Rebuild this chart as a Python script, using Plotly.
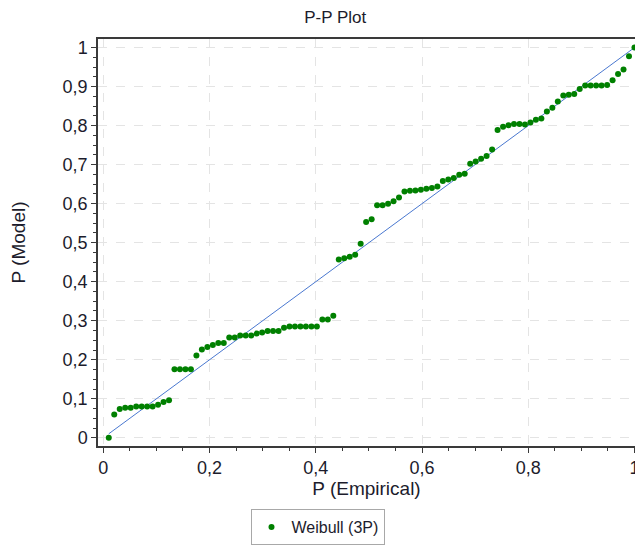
import plotly.graph_objects as go

# Empirical probabilities (rank / n, n = 97)
p_empirical = [
    0.0103, 0.0206, 0.0309, 0.0412, 0.0515, 0.0619, 0.0722, 0.0825, 0.0928, 0.1031,
    0.1134, 0.1237, 0.1340, 0.1443, 0.1546, 0.1649, 0.1753, 0.1856, 0.1959, 0.2062,
    0.2165, 0.2268, 0.2371, 0.2474, 0.2577, 0.2680, 0.2784, 0.2887, 0.2990, 0.3093,
    0.3196, 0.3299, 0.3402, 0.3505, 0.3608, 0.3711, 0.3814, 0.3918, 0.4021, 0.4124,
    0.4227, 0.4330, 0.4433, 0.4536, 0.4639, 0.4742, 0.4845, 0.4948, 0.5052, 0.5155,
    0.5258, 0.5361, 0.5464, 0.5567, 0.5670, 0.5773, 0.5876, 0.5979, 0.6082, 0.6186,
    0.6289, 0.6392, 0.6495, 0.6598, 0.6701, 0.6804, 0.6907, 0.7010, 0.7113, 0.7216,
    0.7320, 0.7423, 0.7526, 0.7629, 0.7732, 0.7835, 0.7938, 0.8041, 0.8144, 0.8247,
    0.8351, 0.8454, 0.8557, 0.8660, 0.8763, 0.8866, 0.8969, 0.9072, 0.9175, 0.9278,
    0.9381, 0.9485, 0.9588, 0.9691, 0.9794, 0.9897, 1.0000,
]

# Model probabilities, Weibull (3P)
p_model = [
    0.000, 0.060, 0.074, 0.077, 0.077, 0.080, 0.080, 0.080, 0.080, 0.085,
    0.092, 0.096, 0.176, 0.176, 0.176, 0.176, 0.211, 0.226, 0.233, 0.238,
    0.243, 0.243, 0.257, 0.257, 0.262, 0.262, 0.262, 0.267, 0.270, 0.274,
    0.274, 0.274, 0.282, 0.285, 0.285, 0.285, 0.285, 0.285, 0.285, 0.303,
    0.303, 0.313, 0.457, 0.460, 0.464, 0.469, 0.497, 0.553, 0.560, 0.596,
    0.596, 0.600, 0.606, 0.616, 0.631, 0.633, 0.634, 0.636, 0.638, 0.640,
    0.644, 0.658, 0.662, 0.666, 0.674, 0.677, 0.702, 0.708, 0.715, 0.722,
    0.739, 0.789, 0.797, 0.801, 0.804, 0.804, 0.803, 0.808, 0.815, 0.818,
    0.836, 0.846, 0.862, 0.877, 0.879, 0.881, 0.894, 0.903, 0.903, 0.903,
    0.903, 0.904, 0.916, 0.932, 0.944, 0.978, 1.000,
]

# Reference diagonal (y = x) end points
ref_line = [0.0103, 1.0]

series_name = "Weibull (3P)"
title_text = "P-P Plot"
x_title = "P (Empirical)"
y_title = "P (Model)"

FONT = "Liberation Sans, Arial, sans-serif"
TXT = "#1c1c2c"

fig = go.Figure()
fig.add_trace(go.Scatter(
    x=ref_line, y=ref_line, mode="lines",
    line=dict(color="#4a78d0", width=1),
    showlegend=False, hoverinfo="skip", cliponaxis=False,
))
fig.add_trace(go.Scatter(
    x=p_empirical, y=p_model, mode="markers", name=series_name,
    marker=dict(color="#008000", size=6, line=dict(width=0)),
))

axis_common = dict(
    showline=True, linecolor="#3a3a3a", linewidth=1.5, mirror=True,
    showgrid=True, gridcolor="#e4e4e4", gridwidth=1, griddash="dash",
    zeroline=False,
    ticks="outside", ticklen=5, tickcolor="#3a3a3a", tickwidth=1,
    tickfont=dict(family=FONT, size=18, color=TXT),
    tick0=0, ticklabeloverflow="allow",
)

fig.update_xaxes(
    **axis_common,
    range=[-0.010, 1.001], dtick=0.2,
    minor=dict(dtick=0.05, ticks="outside", ticklen=3, tickcolor="#3a3a3a", showgrid=False),
    title=dict(text=x_title, font=dict(family=FONT, size=19, color=TXT), standoff=2),
)
fig.update_yaxes(
    **axis_common,
    range=[-0.021, 1.022], dtick=0.1,
    minor=dict(dtick=0.025, ticks="outside", ticklen=3, tickcolor="#3a3a3a", showgrid=False),
    title=dict(text=y_title, font=dict(family=FONT, size=19, color=TXT), standoff=32),
)

fig.update_layout(
    width=635, height=545,
    margin=dict(l=98, r=0, t=39, b=99, autoexpand=False),
    paper_bgcolor="white", plot_bgcolor="white",
    separators=", ",
    font=dict(family=FONT, color=TXT),
    title=dict(text=title_text, x=0.528, xref="container", xanchor="center",
               y=1 - 17 / 545, yref="container", yanchor="middle",
               font=dict(family=FONT, size=17, color=TXT)),
    legend=dict(
        orientation="h", x=0.5, xref="container", xanchor="center",
        y=1 - 509 / 545, yref="container", yanchor="top",
        bordercolor="#a8a8a8", borderwidth=1, bgcolor="white",
        font=dict(family=FONT, size=16, color=TXT),
        itemwidth=30,
    ),
    showlegend=True,
)

fig.write_html(
    "out.html",
    config={"displayModeBar": False},
    post_script="document.body.style.margin='0';document.body.style.overflow='hidden';",
)
